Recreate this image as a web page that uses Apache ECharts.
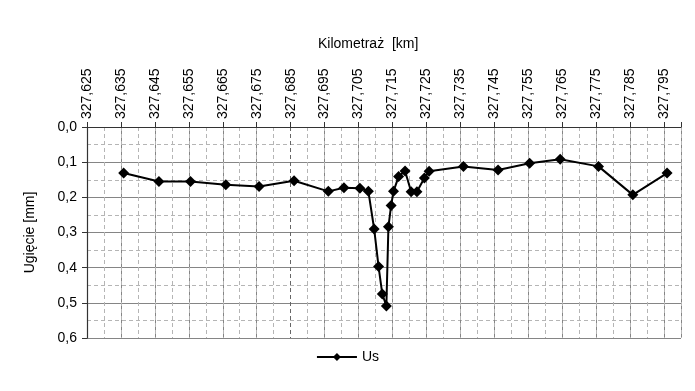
<!DOCTYPE html>
<html><head><meta charset="utf-8">
<script src="https://cdn.jsdelivr.net/npm/echarts@6/dist/echarts.min.js"></script>
<style>html,body{margin:0;padding:0;background:#fff}#c{width:695px;height:391px}</style>
</head><body><div id="c"></div>
<script>
const seriesName = 'Us';
const xTitle = 'Kilometraż  [km]';
const yTitle = 'Ugięcie [mm]';
const km = [327.6358,327.6462,327.6555,327.6659,327.6757,327.6860,327.6961,327.7007,327.7054,327.7079,
  327.7096,327.7109,327.7120,327.7132,327.7138,327.7146,327.7153,327.7168,327.7187,327.7205,
  327.7222,327.7244,327.7258,327.7359,327.7461,327.7554,327.7644,327.7757,327.7858,327.7959];
const us = [0.131,0.155,0.155,0.164,0.169,0.153,0.183,0.173,0.174,0.183,
  0.290,0.397,0.475,0.509,0.284,0.223,0.183,0.141,0.125,0.184,
  0.184,0.145,0.126,0.112,0.122,0.103,0.092,0.112,0.193,0.131];
const xMin = 327.625, xMax = 327.8, xStep = 0.01, xMinorStep = 0.005;
const yMin = 0, yMax = 0.6, yStep = 0.1;
const dashedKm = 327.685;

const font = 'Liberation Sans, Arial, sans-serif';
const majorCount = Math.round((xMax - xMin) / xStep) + 2;
const minorCount = Math.round((xMax - xMin) / xMinorStep) + 1;
const majorColors = [], minorColors = [];
for (let i = 0; i < majorCount; i++) {
  const v = xMin + i * xStep;
  majorColors.push(Math.abs(v - dashedKm) < 1e-6 ? 'rgba(0,0,0,0)' : '#858585');
}
for (let i = 0; i < minorCount; i++) {
  const v = xMin + i * xMinorStep;
  minorColors.push(Math.abs(v - dashedKm) < 1e-6 ? '#666' : '#b5b5b5');
}
const chart = echarts.init(document.getElementById('c'), null, {renderer: 'canvas'});
chart.setOption({
  animation: false,
  backgroundColor: '#fff',
  textStyle: {fontFamily: font},
  title: {
    text: xTitle, left: 313, top: 32,
    textStyle: {fontSize: 14, fontWeight: 'normal', color: '#000', fontFamily: font}
  },
  grid: {left: 87, right: 14, top: 127, bottom: 53, containLabel: false},
  legend: {
    bottom: 22, left: 'center', itemWidth: 40, itemHeight: 10,
    textStyle: {fontSize: 14, color: '#000', fontFamily: font},
    data: [seriesName]
  },
  xAxis: [{
    type: 'value', position: 'top', min: xMin, max: xMax, interval: xStep,
    axisLine: {show: true, onZero: false, lineStyle: {color: '#333', width: 1.2}},
    axisTick: {show: true, inside: false, length: 5, lineStyle: {color: '#333'}},
    axisLabel: {
      rotate: -90, margin: 8, fontSize: 14, color: '#000', fontFamily: font,
      formatter: function (v) {
        const k = (v - xMin) / xStep;
        if (Math.abs(k - Math.round(k)) > 1e-4 || v > xMax - 1e-6) return '';
        return v.toFixed(3).replace('.', ',');
      }
    },
    splitLine: {show: true, lineStyle: {color: majorColors, width: 1}}
  }, {
    type: 'value', position: 'top', min: xMin, max: xMax, interval: xMinorStep,
    axisLine: {show: false}, axisTick: {show: false}, axisLabel: {show: false},
    splitLine: {show: true, lineStyle: {color: minorColors, width: 1, type: [4, 3]}}
  }],
  yAxis: {
    type: 'value', inverse: true, min: yMin, max: yMax, interval: yStep,
    name: yTitle, nameLocation: 'middle', nameGap: 50, nameRotate: 90,
    nameTextStyle: {fontSize: 14, color: '#000', fontFamily: font},
    axisLine: {show: true, onZero: false, lineStyle: {color: '#333', width: 1.2}},
    axisTick: {show: true, inside: false, length: 5, lineStyle: {color: '#333'}},
    axisLabel: {margin: 10, fontSize: 14, color: '#000', fontFamily: font,
      formatter: v => v.toFixed(1).replace('.', ',')},
    splitLine: {show: true, lineStyle: {color: '#858585', width: 1}},
    minorTick: {show: false, splitNumber: 2},
    minorSplitLine: {show: true, lineStyle: {color: '#b5b5b5', width: 1, type: [4, 3]}}
  },
  series: [{
    name: seriesName, type: 'line', xAxisIndex: 0,
    data: km.map((x, i) => [x, us[i]]),
    symbol: 'diamond', symbolSize: 11,
    itemStyle: {color: '#000'},
    lineStyle: {color: '#000', width: 2},
    z: 5
  }]
});
</script></body></html>
